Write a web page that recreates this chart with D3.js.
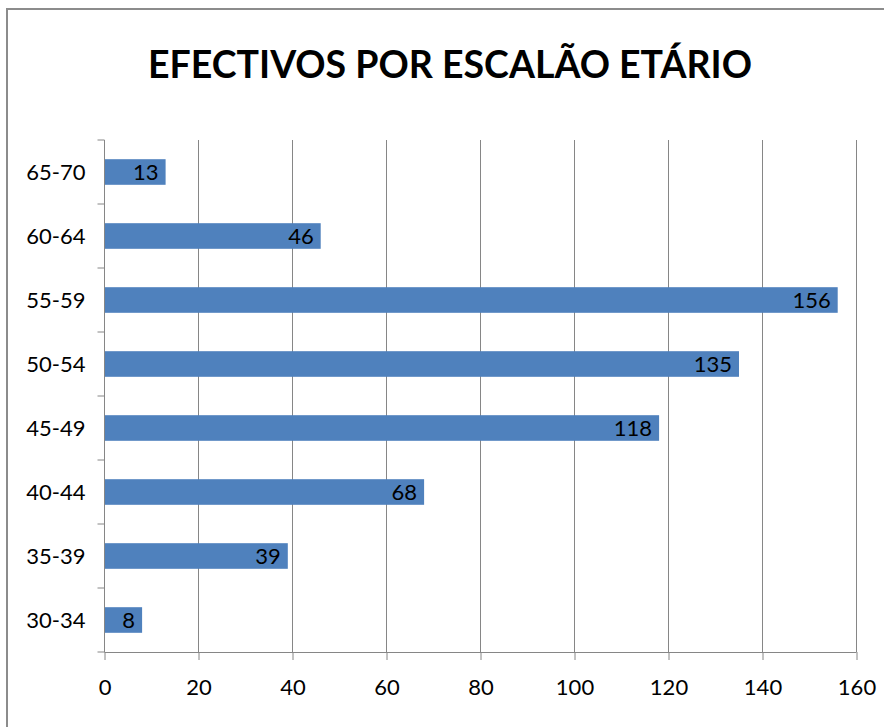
<!DOCTYPE html>
<html>
<head>
<meta charset="utf-8">
<script src="https://cdn.jsdelivr.net/npm/d3@7"></script>
<style>
  html, body { margin: 0; padding: 0; background: #fff; }
  svg { display: block; }
</style>
</head>
<body>
<svg id="chart" width="884" height="727"></svg>
<script>
// ---- data ----
const title = "EFECTIVOS POR ESCALÃO ETÁRIO";
const categories = ["30-34", "35-39", "40-44", "45-49", "50-54", "55-59", "60-64", "65-70"];
const values = [8, 39, 68, 118, 135, 156, 46, 13];
const xTicks = [0, 20, 40, 60, 80, 100, 120, 140, 160];

// ---- layout ----
const W = 884, H = 727;
const plot = { left: 104.5, right: 856.5, top: 140, bottom: 652 };
const font = "Lato, 'Open Sans', 'Liberation Sans', sans-serif";
const gridColor = "#868686";
const barColor = "#4F81BD";
const fs = 22;

const svg = d3.select("#chart");
svg.append("rect").attr("width", W).attr("height", H).attr("fill", "#fff");

// outer chart border
svg.append("rect")
  .attr("x", 7).attr("y", 9).attr("width", 900).attr("height", 800)
  .attr("fill", "none").attr("stroke", "#8c8c8c").attr("stroke-width", 2);

// title
svg.append("text")
  .attr("x", (148 + 752) / 2).attr("y", 78)
  .attr("text-anchor", "middle")
  .attr("font-family", font).attr("font-weight", "bold")
  .attr("font-size", 39).attr("fill", "#000")
  .attr("textLength", 604).attr("lengthAdjust", "spacingAndGlyphs")
  .text(title);

const x = d3.scaleLinear().domain([0, 160]).range([plot.left, plot.right]);
const y = d3.scaleBand().domain(categories.slice().reverse())
  .range([plot.top, plot.bottom]).paddingInner(0.6).paddingOuter(0.3);
const yOuter = d3.scaleBand().domain(categories.slice().reverse())
  .range([plot.top, plot.bottom]).padding(0);

// vertical gridlines
svg.append("g").selectAll("line").data(xTicks.filter(d => d > 0)).join("line")
  .attr("x1", d => x(d)).attr("x2", d => x(d))
  .attr("y1", plot.top).attr("y2", plot.bottom)
  .attr("stroke", gridColor).attr("stroke-width", 1);

// bars
svg.append("g").selectAll("rect").data(categories).join("rect")
  .attr("x", x(0))
  .attr("y", d => y(d))
  .attr("width", (d, i) => x(values[i]) - x(0))
  .attr("height", y.bandwidth())
  .attr("fill", barColor);

// value labels
svg.append("g").selectAll("text").data(categories).join("text")
  .attr("x", (d, i) => x(values[i]) - 7)
  .attr("y", d => y(d) + y.bandwidth() / 2)
  .attr("dy", "0.37em")
  .attr("text-anchor", "end")
  .attr("font-family", font).attr("font-size", fs).attr("fill", "#000")
  .text((d, i) => values[i]);

// x axis
const xAxis = d3.axisBottom(x).tickValues(xTicks).tickSize(8).tickPadding(19).tickFormat(d3.format("d"));
const gx = svg.append("g").attr("transform", `translate(0,${plot.bottom})`).call(xAxis);
gx.select(".domain").attr("stroke", gridColor).attr("d", `M${plot.left},0.5H${plot.right}`);
gx.selectAll(".tick line").attr("stroke", gridColor);
gx.selectAll(".tick text").attr("font-family", font).attr("font-size", fs).attr("fill", "#000");

// y axis
const gy = svg.append("g").attr("transform", `translate(${plot.left},0)`);
gy.append("line").attr("x1", 0).attr("x2", 0).attr("y1", plot.top).attr("y2", plot.bottom)
  .attr("stroke", gridColor);
const boundaries = categories.slice().reverse().map(c => yOuter(c)).concat([plot.bottom]);
gy.selectAll("line.tk").data(boundaries).join("line").attr("class", "tk")
  .attr("x1", -7).attr("x2", 0)
  .attr("y1", d => d).attr("y2", d => d)
  .attr("stroke", gridColor);
gy.selectAll("text").data(categories).join("text")
  .attr("x", -19)
  .attr("y", d => y(d) + y.bandwidth() / 2)
  .attr("dy", "0.37em")
  .attr("text-anchor", "end")
  .attr("font-family", font).attr("font-size", fs).attr("fill", "#000")
  .text(d => d);
</script>
</body>
</html>
